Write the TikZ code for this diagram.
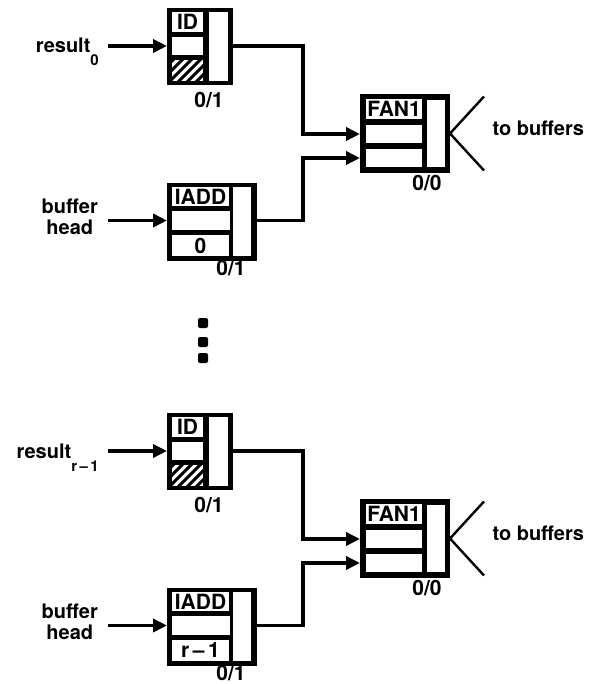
\documentclass[tikz,border=0pt]{standalone}
\usepackage{fontspec}
\setmainfont{TeX Gyre Heros}
\usepackage{tikz}
\usetikzlibrary{arrows.meta}
\newcommand{\lowsub}[1]{\raisebox{-13pt}{\fontsize{15}{15}\selectfont #1}}

\begin{document}
\begin{tikzpicture}[x=1pt,y=-1pt,font=\bfseries\fontsize{20}{21}\selectfont,
  frame/.style={fill=black,inner sep=0pt,outer sep=0pt,anchor=north west},
  cell/.style={fill=white,inner sep=0pt,outer sep=0pt,anchor=north west,font=\bfseries\fontsize{21}{21}\selectfont},
  wire/.style={line width=3.5pt},
  arr/.style={wire,-{Triangle[length=14pt,width=13pt]}},
  tag/.style={inner sep=0pt,font=\bfseries\fontsize{21}{21}\selectfont}]
\useasboundingbox (0,0) rectangle (595,684);
\foreach \i/\dy/\k in {a/0/0,b/405/r\,--\,1}{
\begin{scope}[shift={(0,\dy)}]
% identity actor
\node[frame,minimum width=66pt,minimum height=77pt] (id\i) at (167,8) {};
\node[cell,minimum width=31pt,minimum height=20pt] (idlab\i) at (172,12) {ID};
\node[cell,minimum width=31pt,minimum height=18pt] (idin\i) at (172,37) {};
\node[cell,minimum width=31pt,minimum height=21pt] (idhat\i) at (172,60) {};
\node[cell,minimum width=19pt,minimum height=69pt] (idr\i) at (209,12) {};
\begin{scope}
\clip (idhat\i.north west) rectangle (idhat\i.south east);
\foreach \h in {0,...,5} \draw[line width=3pt] ({148+9*\h},85) -- ++(28,-28);
\end{scope}
\node[tag] (idcnt\i) at (209,100) {0/1};
% integer add actor
\node[frame,minimum width=90pt,minimum height=78pt] (add\i) at (167,183) {};
\node[cell,minimum width=57pt,minimum height=19pt] (addlab\i) at (172,187) {IADD};
\node[cell,minimum width=58pt,minimum height=19pt] (addin\i) at (172,211) {};
\node[cell,minimum width=57pt,minimum height=21pt] (addk\i) at (172,235) {\k};
\node[cell,minimum width=18pt,minimum height=69pt] (addr\i) at (233,187) {};
\node[tag] (addcnt\i) at (231,268) {0/1};
% fan-out actor
\node[frame,minimum width=90pt,minimum height=79pt] (fan\i) at (360,94) {};
\node[cell,minimum width=56pt,minimum height=20pt] (fanlab\i) at (366,99) {FAN1};
\node[cell,minimum width=56pt,minimum height=18pt] (fanin\i) at (366,125) {};
\node[cell,minimum width=56pt,minimum height=18pt] (fanjn\i) at (366,149) {};
\node[cell,minimum width=18pt,minimum height=67pt] (fanr\i) at (427,100) {};
\node[tag] (fancnt\i) at (427,183) {0/0};
% inputs
\node[anchor=base east,inner xsep=9pt] (res\i) at (108,53) {result\lowsub{\k}};
\node[anchor=east,align=center,inner xsep=10pt] (head\i) at (108,217) {buffer\\head};
\draw[arr] (res\i.east |- idin\i) -- (id\i.west |- idin\i);
\draw[arr] (head\i.east |- addin\i) -- (add\i.west |- addin\i);
% wires to the fan
\coordinate (jn\i) at (303,0);
\draw[arr] (id\i.east |- idin\i) -| (jn\i |- fanin\i) -- (fan\i.west |- fanin\i);
\draw[arr] (add\i.east |- addin\i) -| (jn\i |- fanjn\i) -- (fan\i.west |- fanjn\i);
\draw[line width=2.4pt] (fan\i.east) -- ++(34,-37) (fan\i.east) -- ++(34,37);
\node[anchor=west] (out\i) at (489,128) {to buffers};
\end{scope}}
% ellipsis
\foreach \y in {323,342,358} \fill[rounded corners=2pt] (198,{\y-5}) rectangle ++(10,10);
\end{tikzpicture}
\end{document}
